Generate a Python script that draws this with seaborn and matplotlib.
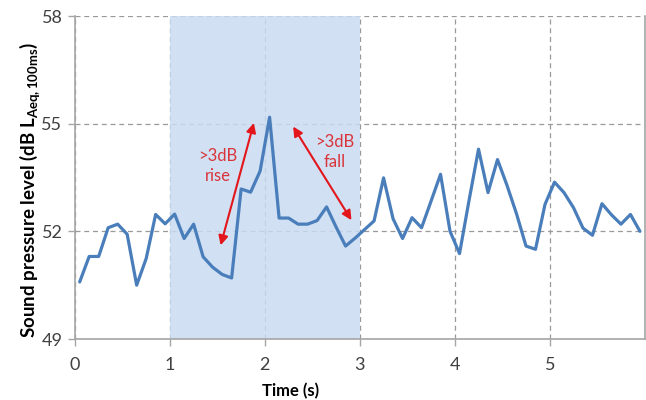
import numpy as np
import pandas as pd
import matplotlib
matplotlib.use("Agg")
import matplotlib.pyplot as plt
import seaborn as sns

# --- Data (100 ms steps) ---
time_s = [0.05, 0.15, 0.25, 0.35, 0.45, 0.55, 0.65, 0.75, 0.85, 0.95,
          1.05, 1.15, 1.25, 1.35, 1.45, 1.55, 1.65, 1.75, 1.85, 1.95,
          2.05, 2.15, 2.25, 2.35, 2.45, 2.55, 2.65, 2.75, 2.85, 2.95,
          3.05, 3.15, 3.25, 3.35, 3.45, 3.55, 3.65, 3.75, 3.85, 3.95,
          4.05, 4.15, 4.25, 4.35, 4.45, 4.55, 4.65, 4.75, 4.85, 4.95,
          5.05, 5.15, 5.25, 5.35, 5.45, 5.55, 5.65, 5.75, 5.85, 5.95]
level_db = [50.59, 51.30, 51.30, 52.10, 52.20, 51.92, 50.50, 51.24, 52.47, 52.21,
            52.48, 51.80, 52.20, 51.29, 51.00, 50.80, 50.70, 53.18, 53.09, 53.68,
            55.18, 52.37, 52.37, 52.20, 52.20, 52.30, 52.68, 52.12, 51.59, 51.81,
            52.05, 52.29, 53.49, 52.35, 51.80, 52.38, 52.10, 52.84, 53.59, 52.00,
            51.38, 52.86, 54.29, 53.08, 54.00, 53.28, 52.49, 51.59, 51.50, 52.75,
            53.37, 53.08, 52.66, 52.09, 51.89, 52.77, 52.46, 52.20, 52.47, 52.00]

x_ticks = [0, 1, 2, 3, 4, 5]
y_ticks = [49, 52, 55, 58]
shade_span = (1, 3)

df = pd.DataFrame({"time": time_s, "level": level_db})

# --- Style ---
sns.set_style("white")
plt.rcParams["font.family"] = ["Lato", "DejaVu Sans"]
plt.rcParams["mathtext.fontset"] = "custom"
plt.rcParams["mathtext.rm"] = "Lato"
plt.rcParams["mathtext.bf"] = "Lato:bold"

LINE_BLUE = "#4a7ebb"
SHADE = "#c9dbf2"
RED = "#e3161c"
TEXT_RED = "#d9343a"
GRID = "#9a9a9a"
AXIS = "#a6a6a6"

fig, ax = plt.subplots(figsize=(6.46, 4.0), dpi=100)
fig.subplots_adjust(left=0.116, right=0.998, top=0.96, bottom=0.1525)

ax.set_axisbelow(True)
ax.grid(True, color=GRID, linestyle=(0, (4, 3)), linewidth=0.9, zorder=0)
ax.axvspan(*shade_span, color=SHADE, alpha=0.85, lw=0, zorder=1)

sns.lineplot(data=df, x="time", y="level", ax=ax, color=LINE_BLUE, linewidth=2.3, zorder=3)

ax.set_xlim(0, 6)
ax.set_ylim(49, 58)
ax.set_xticks(x_ticks)
ax.set_yticks(y_ticks)
ax.tick_params(axis="both", labelsize=13, colors=AXIS, labelcolor="#404040",
               length=5, width=1, direction="out", bottom=True, left=True)
ax.tick_params(axis="x", pad=8)
ax.tick_params(axis="y", pad=4)

for side in ["left", "bottom", "right"]:
    ax.spines[side].set_color(AXIS)
    ax.spines[side].set_linewidth(1.2)
ax.spines["top"].set_visible(False)

ax.set_xlabel("Time (s)", fontsize=12, fontweight="bold", color="black")
ax.xaxis.set_label_coords(0.379, -0.135)
ax.set_ylabel(r"Sound pressure level (dB L$_{\mathbf{Aeq,100ms}}$)",
              fontsize=13.5, fontweight="bold", color="black")
ax.yaxis.set_label_coords(-0.056, 0.46)

# --- Annotations ---
arrow_kw = dict(arrowstyle="<|-|>", color=RED, lw=1.5, mutation_scale=14,
                shrinkA=0, shrinkB=0)
ax.annotate("", xy=(1.884, 55.02), xytext=(1.534, 51.61), arrowprops=arrow_kw, zorder=4)
ax.annotate("", xy=(2.298, 54.92), xytext=(2.912, 52.31), arrowprops=arrow_kw, zorder=4)
ax.text(1.50, 53.83, ">3dB\nrise", color=TEXT_RED, fontsize=12, ha="center", va="center",
        linespacing=1.3, zorder=4)
ax.text(2.74, 54.20, ">3dB\nfall", color=TEXT_RED, fontsize=12, ha="center", va="center",
        linespacing=1.3, zorder=4)

plt.savefig("out.png", dpi=100)
